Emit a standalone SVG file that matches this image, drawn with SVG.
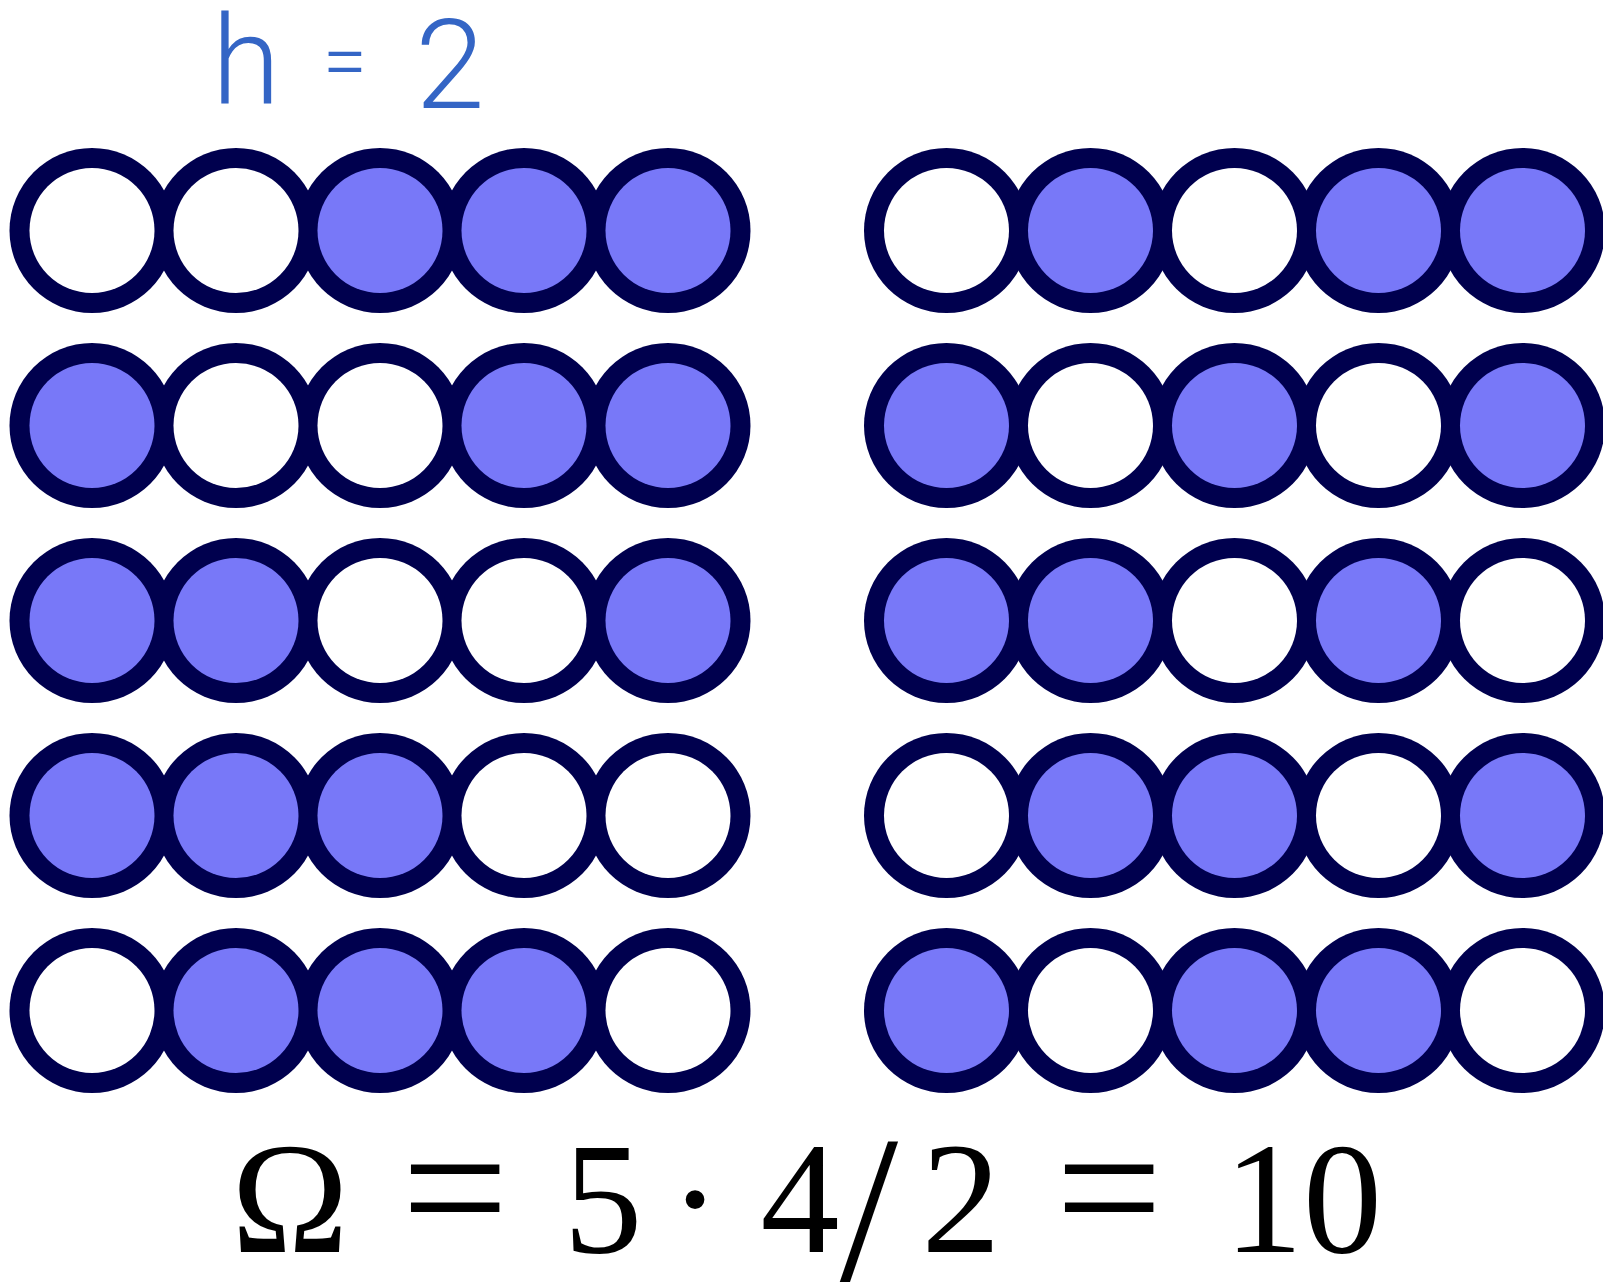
<svg xmlns="http://www.w3.org/2000/svg" width="1603" height="1286" viewBox="0 0 1603 1286">
<style>
.o{fill:#00004e}
.w{fill:#ffffff}
.f{fill:#7878f8}
.eq{font-family:"Liberation Serif","DejaVu Serif",serif;font-size:158px;fill:#000}
.hw{font-family:Roboto,"DejaVu Sans",sans-serif;font-weight:300;font-size:125px;fill:#3465c5}
</style>
<defs>
<circle id="ring" r="82.5"/>
</defs>
<rect width="1603" height="1286" fill="#ffffff"/>
<text class="hw" text-anchor="middle"><tspan x="246" y="104">h</tspan><tspan x="345" y="88" font-size="80">=</tspan><tspan x="450" y="108">2</tspan></text>
<g id="outlines" class="o">
<circle cx="92" cy="230.5" r="82.5"/><circle cx="236" cy="230.5" r="82.5"/><circle cx="380" cy="230.5" r="82.5"/><circle cx="524" cy="230.5" r="82.5"/><circle cx="668" cy="230.5" r="82.5"/>
<circle cx="92" cy="425.5" r="82.5"/><circle cx="236" cy="425.5" r="82.5"/><circle cx="380" cy="425.5" r="82.5"/><circle cx="524" cy="425.5" r="82.5"/><circle cx="668" cy="425.5" r="82.5"/>
<circle cx="92" cy="620.5" r="82.5"/><circle cx="236" cy="620.5" r="82.5"/><circle cx="380" cy="620.5" r="82.5"/><circle cx="524" cy="620.5" r="82.5"/><circle cx="668" cy="620.5" r="82.5"/>
<circle cx="92" cy="815.5" r="82.5"/><circle cx="236" cy="815.5" r="82.5"/><circle cx="380" cy="815.5" r="82.5"/><circle cx="524" cy="815.5" r="82.5"/><circle cx="668" cy="815.5" r="82.5"/>
<circle cx="92" cy="1010.5" r="82.5"/><circle cx="236" cy="1010.5" r="82.5"/><circle cx="380" cy="1010.5" r="82.5"/><circle cx="524" cy="1010.5" r="82.5"/><circle cx="668" cy="1010.5" r="82.5"/>
<circle cx="946.5" cy="230.5" r="82.5"/><circle cx="1090.5" cy="230.5" r="82.5"/><circle cx="1234.5" cy="230.5" r="82.5"/><circle cx="1378.5" cy="230.5" r="82.5"/><circle cx="1522.5" cy="230.5" r="82.5"/>
<circle cx="946.5" cy="425.5" r="82.5"/><circle cx="1090.5" cy="425.5" r="82.5"/><circle cx="1234.5" cy="425.5" r="82.5"/><circle cx="1378.5" cy="425.5" r="82.5"/><circle cx="1522.5" cy="425.5" r="82.5"/>
<circle cx="946.5" cy="620.5" r="82.5"/><circle cx="1090.5" cy="620.5" r="82.5"/><circle cx="1234.5" cy="620.5" r="82.5"/><circle cx="1378.5" cy="620.5" r="82.5"/><circle cx="1522.5" cy="620.5" r="82.5"/>
<circle cx="946.5" cy="815.5" r="82.5"/><circle cx="1090.5" cy="815.5" r="82.5"/><circle cx="1234.5" cy="815.5" r="82.5"/><circle cx="1378.5" cy="815.5" r="82.5"/><circle cx="1522.5" cy="815.5" r="82.5"/>
<circle cx="946.5" cy="1010.5" r="82.5"/><circle cx="1090.5" cy="1010.5" r="82.5"/><circle cx="1234.5" cy="1010.5" r="82.5"/><circle cx="1378.5" cy="1010.5" r="82.5"/><circle cx="1522.5" cy="1010.5" r="82.5"/>
</g>
<g id="left">
<g id="L1"><circle class="w" cx="92" cy="230.5" r="62.5"/><circle class="w" cx="236" cy="230.5" r="62.5"/><circle class="f" cx="380" cy="230.5" r="62.5"/><circle class="f" cx="524" cy="230.5" r="62.5"/><circle class="f" cx="668" cy="230.5" r="62.5"/></g>
<g id="L2"><circle class="f" cx="92" cy="425.5" r="62.5"/><circle class="w" cx="236" cy="425.5" r="62.5"/><circle class="w" cx="380" cy="425.5" r="62.5"/><circle class="f" cx="524" cy="425.5" r="62.5"/><circle class="f" cx="668" cy="425.5" r="62.5"/></g>
<g id="L3"><circle class="f" cx="92" cy="620.5" r="62.5"/><circle class="f" cx="236" cy="620.5" r="62.5"/><circle class="w" cx="380" cy="620.5" r="62.5"/><circle class="w" cx="524" cy="620.5" r="62.5"/><circle class="f" cx="668" cy="620.5" r="62.5"/></g>
<g id="L4"><circle class="f" cx="92" cy="815.5" r="62.5"/><circle class="f" cx="236" cy="815.5" r="62.5"/><circle class="f" cx="380" cy="815.5" r="62.5"/><circle class="w" cx="524" cy="815.5" r="62.5"/><circle class="w" cx="668" cy="815.5" r="62.5"/></g>
<g id="L5"><circle class="w" cx="92" cy="1010.5" r="62.5"/><circle class="f" cx="236" cy="1010.5" r="62.5"/><circle class="f" cx="380" cy="1010.5" r="62.5"/><circle class="f" cx="524" cy="1010.5" r="62.5"/><circle class="w" cx="668" cy="1010.5" r="62.5"/></g>
</g>
<g id="right">
<g id="R1"><circle class="w" cx="946.5" cy="230.5" r="62.5"/><circle class="f" cx="1090.5" cy="230.5" r="62.5"/><circle class="w" cx="1234.5" cy="230.5" r="62.5"/><circle class="f" cx="1378.5" cy="230.5" r="62.5"/><circle class="f" cx="1522.5" cy="230.5" r="62.5"/></g>
<g id="R2"><circle class="f" cx="946.5" cy="425.5" r="62.5"/><circle class="w" cx="1090.5" cy="425.5" r="62.5"/><circle class="f" cx="1234.5" cy="425.5" r="62.5"/><circle class="w" cx="1378.5" cy="425.5" r="62.5"/><circle class="f" cx="1522.5" cy="425.5" r="62.5"/></g>
<g id="R3"><circle class="f" cx="946.5" cy="620.5" r="62.5"/><circle class="f" cx="1090.5" cy="620.5" r="62.5"/><circle class="w" cx="1234.5" cy="620.5" r="62.5"/><circle class="f" cx="1378.5" cy="620.5" r="62.5"/><circle class="w" cx="1522.5" cy="620.5" r="62.5"/></g>
<g id="R4"><circle class="w" cx="946.5" cy="815.5" r="62.5"/><circle class="f" cx="1090.5" cy="815.5" r="62.5"/><circle class="f" cx="1234.5" cy="815.5" r="62.5"/><circle class="w" cx="1378.5" cy="815.5" r="62.5"/><circle class="f" cx="1522.5" cy="815.5" r="62.5"/></g>
<g id="R5"><circle class="f" cx="946.5" cy="1010.5" r="62.5"/><circle class="w" cx="1090.5" cy="1010.5" r="62.5"/><circle class="f" cx="1234.5" cy="1010.5" r="62.5"/><circle class="f" cx="1378.5" cy="1010.5" r="62.5"/><circle class="w" cx="1522.5" cy="1010.5" r="62.5"/></g>
</g>
<g id="connectors"/>
<text class="eq" text-anchor="middle"><tspan x="290" y="1252">Ω</tspan><tspan x="455" y="1252" font-size="190">=</tspan><tspan x="603" y="1252">5</tspan><tspan x="695" y="1252">·</tspan><tspan x="800" y="1252">4</tspan><tspan x="869" y="1280" font-size="210">/</tspan><tspan x="961" y="1252">2</tspan><tspan x="1109" y="1252" font-size="190">=</tspan><tspan x="1303" y="1252">10</tspan></text>
</svg>
